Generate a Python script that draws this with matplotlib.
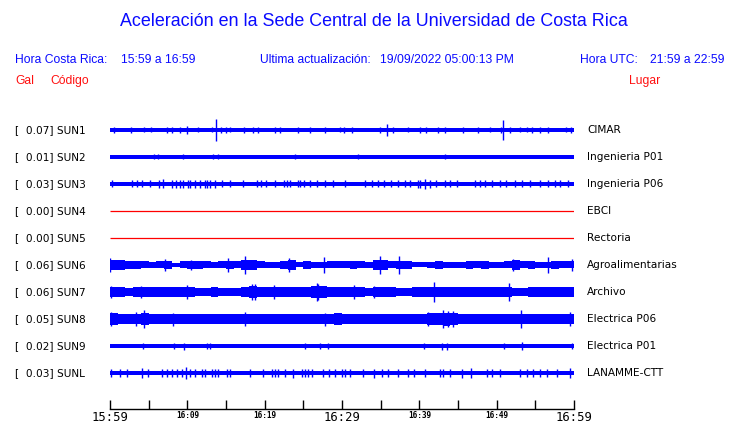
import numpy as np
import matplotlib
matplotlib.use('Agg')
import matplotlib.pyplot as plt
from matplotlib.transforms import blended_transform_factory

# ---------------- data ----------------
codes = ['SUN1', 'SUN2', 'SUN3', 'SUN4', 'SUN5', 'SUN6', 'SUN7', 'SUN8', 'SUN9', 'SUNL']
places = ['CIMAR', 'Ingenieria P01', 'Ingenieria P06', 'EBCI', 'Rectoria',
          'Agroalimentarias', 'Archivo', 'Electrica P06', 'Electrica P01', 'LANAMME-CTT']
peak_gal = [0.07, 0.01, 0.03, 0.00, 0.00, 0.06, 0.06, 0.05, 0.02, 0.03]
trace_colors = ['#0000ff', '#0000ff', '#0000ff', '#ff0000', '#ff0000',
                '#0000ff', '#0000ff', '#0000ff', '#0000ff', '#0000ff']

tick_minutes = list(range(0, 61, 5))
tick_labels = ['15:59', '', '16:09', '', '16:19', '', '16:29', '', '16:39', '', '16:49', '', '16:59']
major_labels = ['15:59', '16:29', '16:59']

# background noise level (half amplitude), one value per minute or a constant
env_sun1 = 1.8
env_sun2 = 1.6
env_sun3 = 2.4
env_sun4 = 0.0
env_sun5 = 0.0
env_sun6 = [5, 4.5, 4, 4, 3.5, 3, 3.5, 4, 2, 3.5, 4, 4, 3.5, 3, 3.5, 4, 3.5, 5, 5, 3.5,
            3, 3, 4, 4.5, 2.5, 4, 3, 3, 3.5, 3.5, 3.5, 4, 3.5, 3, 5, 4.5, 3.5, 4, 4, 2.5,
            2.5, 3, 4, 3, 3, 3, 4, 3.5, 4, 3, 3, 3.5, 5, 3.5, 4, 3, 3, 4, 3.5, 3.5]
env_sun7 = [5.5, 4.5, 4, 4.5, 5, 4.5, 4.5, 4.5, 4.5, 5, 4.5, 4, 4, 4.5, 4, 4, 4, 5, 6, 5.5,
            4.5, 5, 5, 5, 5, 5, 6, 6, 5, 5, 4.5, 4.5, 4.5, 4, 5, 5, 4.5, 4, 4, 4.5,
            5, 5, 5.5, 5, 4.5, 4.5, 4.5, 4.5, 4.5, 5, 5, 5.5, 4, 4, 4.5, 4.5, 4.5, 5, 5, 5]
env_sun8 = [6, 5.5, 5.5, 5.5, 6, 5, 5, 5, 5, 5, 5, 4.5, 4.5, 4.5, 5, 5, 5, 5.5, 5, 5,
            5, 5, 5, 5, 5, 5.5, 5.5, 5.5, 5.5, 6, 4.5, 4.5, 4.5, 4.5, 4.5, 4.5, 5, 5, 5, 5,
            5.5, 6, 6, 6.5, 6, 5, 5, 5, 5, 5, 5, 5, 5.5, 5.5, 5, 5, 5, 5, 5.5, 5.5]
env_sun9 = 1.8
env_sunl = 2.4

# bursts: (minute, half amplitude)
spk_sun1 = [(0.5, 3), (2.7, 3), (4.4, 2.5), (5.3, 2.5), (7.4, 3), (8.0, 3), (9.1, 3), (10.0, 4),
            (11.4, 2.5), (13.2, 2.5), (13.7, 11), (14.4, 3), (15.0, 3), (15.5, 2.5), (17.3, 3),
            (18.5, 3), (19.1, 3), (21.3, 3), (22.0, 3), (24.3, 3), (25.9, 3), (27.8, 3),
            (29.7, 2.5), (30.3, 3), (31.3, 3), (34.9, 3), (35.8, 6), (36.6, 3), (38.5, 2.5),
            (40.1, 3), (40.9, 3), (42.4, 3), (43.3, 3), (45.6, 3), (47.6, 3), (49.1, 2.5),
            (50.6, 3), (50.8, 10), (51.7, 3), (53.0, 2.5), (53.9, 2.5), (54.6, 3), (55.6, 3),
            (56.6, 3), (59.0, 2.5), (59.6, 3)]
spk_sun2 = [(5.7, 2.5), (6.2, 2.5), (9.4, 2.5), (13.3, 2.5), (14.0, 2.5), (23.9, 2.5),
            (32.1, 2.5), (43.3, 2.5)]
spk_sun3 = [(0.3, 3.5), (2.8, 3.5), (3.5, 3.5), (4.1, 3.5), (5.2, 3.5), (6.3, 4), (6.9, 4.5),
            (8.0, 4), (8.5, 4), (9.1, 4), (9.4, 4), (10.1, 4), (10.3, 4), (11.0, 4), (11.6, 4),
            (12.3, 4), (12.5, 4), (12.9, 4), (13.6, 4), (14.5, 3.5), (15.5, 3.5), (17.2, 3.5),
            (19.0, 3.5), (19.5, 3.5), (20.2, 3.5), (21.3, 3.5), (22.5, 3.5), (22.9, 3.5),
            (23.3, 3.5), (24.3, 3.5), (24.6, 3.5), (25.1, 3.5), (25.9, 3.5), (26.8, 3.5),
            (27.8, 3.5), (28.8, 3.5), (30.4, 3.5), (33.0, 3.5), (33.9, 3.5), (34.7, 3.5),
            (35.4, 3.5), (36.3, 3.5), (37.2, 3.5), (38.1, 3.5), (38.8, 3.5), (39.8, 4),
            (40.1, 4), (40.7, 5), (41.4, 4), (42.2, 3.5), (43.3, 3.5), (44.0, 3.5), (44.9, 3.5),
            (47.2, 3.5), (47.8, 3.5), (48.5, 3.5), (49.4, 3.5), (50.4, 3.5), (51.2, 3.5),
            (52.4, 3.5), (53.3, 3.5), (54.3, 3.5), (55.6, 3.5), (56.6, 3.5), (57.6, 3.5),
            (58.2, 3.5), (59.2, 3.5)]
spk_sun4 = []
spk_sun5 = []
spk_sun6 = [(0.0, 7), (7.1, 6), (10.5, 5), (15.2, 7), (17.4, 9), (23.1, 7), (27.7, 8),
            (34.9, 9), (37.4, 9), (52.1, 6), (56.7, 8), (59.8, 6)]
spk_sun7 = [(0.1, 6), (4.0, 6), (9.9, 7), (18.3, 8), (18.7, 8), (21.2, 7), (26.8, 9), (26.9, 8),
            (31.6, 7), (34.1, 6), (41.9, 10), (51.6, 9)]
spk_sun8 = [(0.1, 7), (3.4, 7), (4.4, 9), (8.2, 6.5), (17.4, 7), (27.8, 6.5), (41.1, 7),
            (43.1, 9), (43.7, 8), (44.3, 8), (53.2, 9), (59.5, 7)]
spk_sun9 = [(4.3, 3), (8.3, 3), (9.6, 3.5), (12.5, 3), (12.9, 3), (25.2, 3), (27.2, 3),
            (28.2, 3), (40.6, 3), (42.9, 3.5), (43.6, 3.5), (50.9, 3), (53.3, 4), (59.7, 3)]
spk_sunl = [(0.1, 3.8), (1.3, 3.8), (2.2, 3.8), (4.1, 5), (4.9, 3.8), (6.7, 3.8), (7.4, 3.8),
            (8.0, 3.8), (8.7, 3.8), (9.3, 3.8), (9.8, 6), (10.3, 3.8), (11.0, 3.8), (11.9, 3.8),
            (12.3, 3.8), (13.2, 3.8), (13.6, 3.8), (14.0, 3.8), (15.1, 3.8), (15.5, 3.8),
            (18.1, 3.8), (19.8, 3.8), (20.9, 3.8), (21.3, 3.8), (21.7, 3.8), (22.6, 3.8),
            (23.7, 4.5), (24.8, 3.8), (25.2, 3.8), (25.6, 3.8), (26.1, 3.8), (27.5, 3.8),
            (28.3, 3.8), (29.1, 3.8), (30.0, 3.8), (30.4, 3.8), (31.0, 3.8), (32.7, 3.8),
            (34.1, 4.5), (35.2, 3.8), (35.9, 3.8), (37.2, 3.8), (38.5, 3.8), (39.3, 4),
            (40.7, 3.8), (42.7, 3.8), (43.1, 3.8), (44.0, 3.8), (45.5, 4.5), (46.7, 5),
            (48.7, 3.8), (49.4, 3.8), (50.4, 3.8), (53.0, 3.8), (53.9, 3.8), (54.7, 3.8),
            (55.6, 3.8), (56.5, 3.8), (57.8, 3.8), (59.5, 5)]

envelopes = [env_sun1, env_sun2, env_sun3, env_sun4, env_sun5,
             env_sun6, env_sun7, env_sun8, env_sun9, env_sunl]
bursts = [spk_sun1, spk_sun2, spk_sun3, spk_sun4, spk_sun5,
          spk_sun6, spk_sun7, spk_sun8, spk_sun9, spk_sunl]

# ---------------- figure ----------------
W, H = 740, 423
fig = plt.figure(figsize=(W / 100, H / 100), dpi=100)
fig.patch.set_facecolor('white')

ROW = 27.0          # amplitude units per trace row
DURATION = 60.0
ax_top, ax_bot = 116.5, 386.5
ax = fig.add_axes([110 / W, 1 - ax_bot / H, 464 / W, (ax_bot - ax_top) / H])
ax.set_xlim(0, DURATION)
ax.set_ylim(len(codes) - 0.5, -0.5)
for s in ['top', 'left', 'right']:
    ax.spines[s].set_visible(False)
ax.spines['bottom'].set_position(('outward', 16.2))
ax.spines['bottom'].set_linewidth(1.0)
ax.set_yticks([])
ax.set_xticks(tick_minutes)
ax.set_xticklabels(tick_labels)
ax.tick_params(axis='x', direction='in', length=6.8, width=1.0, pad=1.5, color='black')
for lab in ax.get_xticklabels():
    if lab.get_text() in major_labels:
        lab.set_fontsize(8.8)
        lab.set_family('DejaVu Sans Mono')
    else:
        lab.set_fontsize(5.6)
        lab.set_family('DejaVu Sans Mono')
        lab.set_fontweight('bold')

for i, (env, spk, col) in enumerate(zip(envelopes, bursts, trace_colors)):
    env = np.atleast_1d(np.asarray(env, dtype=float))
    if np.all(env == 0):
        ax.plot([0, DURATION], [i, i], color=col, lw=0.9, solid_capstyle='butt')
        continue
    t = np.linspace(0, DURATION, len(env) + 1)
    e = np.append(env, env[-1]) / ROW
    ax.fill_between(t, i - e, i + e, step='post', color=col, lw=0)
    if spk:
        st = [p[0] for p in spk]
        sa = np.array([p[1] for p in spk]) / ROW
        ax.vlines(st, i - sa, i + sa, color=col, lw=1.0)

# station labels
trL = blended_transform_factory(fig.transFigure, ax.transData)
for i, (c, p, g) in enumerate(zip(codes, places, peak_gal)):
    ax.text(15 / W, i, f'[  {g:.2f}] {c}', transform=trL, ha='left', va='center',
            fontsize=7.6, family='DejaVu Sans', color='black', clip_on=False)
    ax.text(587 / W, i, p, transform=trL, ha='left', va='center',
            fontsize=7.6, family='DejaVu Sans', color='black', clip_on=False)

# header texts
blue = '#0a0aff'
red = '#ff1010'
def ftxt(x, y, s, **kw):
    fig.text(x / W, 1 - y / H, s, va='center', family='Liberation Sans', **kw)

ftxt(374, 22, 'Aceleración en la Sede Central de la Universidad de Costa Rica',
     ha='center', fontsize=12.9, color=blue)
FS = 8.7
ftxt(15, 60, 'Hora Costa Rica:', ha='left', fontsize=FS, color=blue)
ftxt(121, 60, '15:59 a 16:59', ha='left', fontsize=FS, color=blue)
ftxt(260, 60, 'Ultima actualización:', ha='left', fontsize=FS, color=blue)
ftxt(380, 60, '19/09/2022 05:00:13 PM', ha='left', fontsize=FS, color=blue)
ftxt(580, 60, 'Hora UTC:', ha='left', fontsize=FS, color=blue)
ftxt(724, 60, '21:59 a 22:59', ha='right', fontsize=FS, color=blue)
ftxt(15, 81, 'Gal', ha='left', fontsize=FS, color=red)
ftxt(50, 81, 'Código', ha='left', fontsize=FS, color=red)
ftxt(629, 81, 'Lugar', ha='left', fontsize=FS, color=red)

fig.savefig('out.png', dpi=100)
